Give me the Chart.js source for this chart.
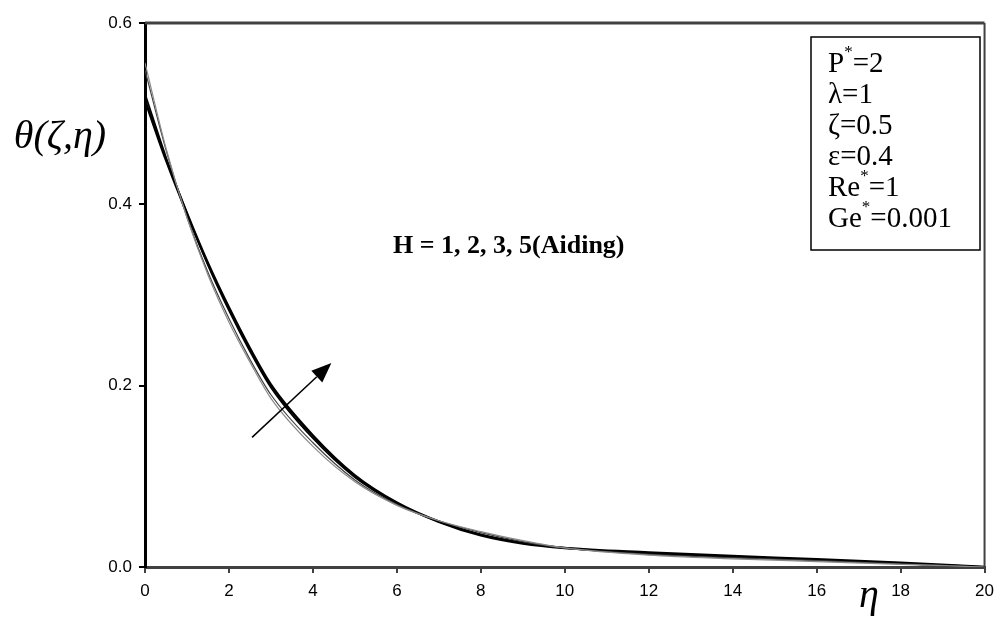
<!DOCTYPE html>
<html>
<head>
<meta charset="utf-8">
<script src="https://cdn.jsdelivr.net/npm/chart.js@4"></script>
<style>
  body { margin: 0; background: #fff; }
  #wrap { width: 1002px; height: 620px; }
</style>
</head>
<body>
<div id="wrap"><canvas id="theta-chart" width="1002" height="620"></canvas></div>
<script>
// eta values along the x axis
const etaValues = [0, 0.5, 1, 1.5, 2, 2.5, 3, 4, 5, 6, 7, 8, 9, 10, 12, 14, 16, 18, 20];

// theta(zeta, eta) for each H
const thetaH1 = [0.556, 0.462, 0.385, 0.322, 0.270, 0.226, 0.186, 0.133, 0.094, 0.068, 0.051, 0.039, 0.029, 0.021, 0.013, 0.009, 0.006, 0.003, 0];
const thetaH2 = [0.548, 0.460, 0.386, 0.325, 0.274, 0.229, 0.190, 0.137, 0.096, 0.069, 0.051, 0.038, 0.028, 0.021, 0.014, 0.010, 0.007, 0.0035, 0];
const thetaH3 = [0.522, 0.452, 0.390, 0.333, 0.283, 0.238, 0.198, 0.142, 0.099, 0.070, 0.050, 0.036, 0.027, 0.021, 0.015, 0.011, 0.008, 0.004, 0];
const thetaH5 = [0.515, 0.449, 0.390, 0.335, 0.286, 0.241, 0.201, 0.145, 0.101, 0.071, 0.050, 0.035, 0.026, 0.021, 0.016, 0.012, 0.0085, 0.0045, 0];

const seriesNames = ["H=1", "H=2", "H=3", "H=5"];
const paramLines = [["P", "*", "=2"], ["λ=1", "", ""], ["ζ=0.5", "", ""], ["ε=0.4", "", ""], ["Re", "*", "=1"], ["Ge", "*", "=0.001"]];
const noteText = "H = 1, 2, 3, 5(Aiding)";

function toPoints(ys) {
  return etaValues.map((x, i) => ({ x: x, y: ys[i] }));
}

function makeSet(label, ys, color, width) {
  return {
    label: label,
    data: toPoints(ys),
    borderColor: color,
    borderWidth: width,
    pointRadius: 0,
    fill: false,
    cubicInterpolationMode: "monotone",
  };
}

// extra drawing: frame, parameter box, note, arrow, axis titles
const extrasPlugin = {
  id: "extras",
  afterDraw(chart) {
    const ctx = chart.ctx;
    const a = chart.chartArea;
    const xs = chart.scales.x;
    const ys = chart.scales.y;
    ctx.save();

    // top and right frame
    ctx.strokeStyle = "#404040";
    ctx.lineWidth = 3;
    ctx.beginPath();
    ctx.moveTo(a.left, a.top);
    ctx.lineTo(a.right, a.top);
    ctx.stroke();
    ctx.lineWidth = 2;
    ctx.beginPath();
    ctx.moveTo(a.right, a.top);
    ctx.lineTo(a.right, a.bottom);
    ctx.stroke();

    // parameter box
    ctx.strokeStyle = "#000";
    ctx.lineWidth = 1.5;
    ctx.strokeRect(811, 37, 169, 213);
    ctx.fillStyle = "#000";
    ctx.textBaseline = "middle";
    ctx.textAlign = "left";
    paramLines.forEach((p, i) => {
      const y = 64 + i * 31;
      let x = 828;
      ctx.font = "29px 'Liberation Serif'";
      ctx.fillText(p[0], x, y);
      x += ctx.measureText(p[0]).width;
      if (p[1]) {
        ctx.font = "17px 'Liberation Serif'";
        ctx.fillText(p[1], x, y - 11);
        x += ctx.measureText(p[1]).width;
      }
      if (p[2]) {
        ctx.font = "29px 'Liberation Serif'";
        ctx.fillText(p[2], x, y);
      }
    });

    // note
    ctx.font = "bold 26px 'Liberation Serif'";
    ctx.fillText(noteText, 393, 246);

    // arrow, placed in data coordinates
    const x0 = xs.getPixelForValue(2.55), y0 = ys.getPixelForValue(0.143);
    const x1 = xs.getPixelForValue(4.44), y1 = ys.getPixelForValue(0.225);
    const ang = Math.atan2(y1 - y0, x1 - x0);
    const hl = 20, hw = 8;
    const bx = x1 - hl * Math.cos(ang), by = y1 - hl * Math.sin(ang);
    ctx.lineWidth = 1.5;
    ctx.beginPath();
    ctx.moveTo(x0, y0);
    ctx.lineTo(bx, by);
    ctx.stroke();
    ctx.beginPath();
    ctx.moveTo(x1, y1);
    ctx.lineTo(bx + hw * Math.sin(ang), by - hw * Math.cos(ang));
    ctx.lineTo(bx - hw * Math.sin(ang), by + hw * Math.cos(ang));
    ctx.closePath();
    ctx.fill();

    // axis titles
    ctx.font = "italic 40px 'Liberation Serif'";
    ctx.textAlign = "center";
    ctx.fillText("θ(ζ,η)", 60, 137);
    ctx.textBaseline = "alphabetic";
    ctx.fillText("η", 869, 607);
    ctx.restore();
  },
};

new Chart("theta-chart", {
  type: "line",
  data: {
    datasets: [
      makeSet(seriesNames[0], thetaH1, "#8a8a8a", 1.2),
      makeSet(seriesNames[1], thetaH2, "#444444", 1.2),
      makeSet(seriesNames[2], thetaH3, "#000000", 1.8),
      makeSet(seriesNames[3], thetaH5, "#000000", 2.6),
    ],
  },
  options: {
    responsive: false,
    animation: false,
    layout: { padding: { top: 23, right: 11, left: 0, bottom: 0 } },
    plugins: {
      legend: { display: false },
      tooltip: { enabled: false },
    },
    scales: {
      x: {
        type: "linear",
        min: 0,
        max: 20,
        ticks: {
          stepSize: 2,
          color: "#000",
          font: { family: "'Liberation Sans'", size: 17 },
          padding: 8,
          maxRotation: 0,
        },
        grid: { display: true, drawOnChartArea: false, drawTicks: true, tickLength: 6, color: "#404040", lineWidth: 2 },
        border: { display: true, color: "#404040", width: 3 },
        afterFit(scale) { scale.height = 53; },
      },
      y: {
        type: "linear",
        min: 0,
        max: 0.6,
        ticks: {
          stepSize: 0.2,
          color: "#000",
          font: { family: "'Liberation Sans'", size: 17 },
          padding: 7,
          callback: (v) => v.toFixed(1),
        },
        grid: { display: true, drawOnChartArea: false, drawTicks: true, tickLength: 6, color: "#000", lineWidth: 2 },
        border: { display: true, color: "#000", width: 3 },
        afterFit(scale) { scale.width = 145; },
      },
    },
  },
  plugins: [extrasPlugin],
});
</script>
</body>
</html>
